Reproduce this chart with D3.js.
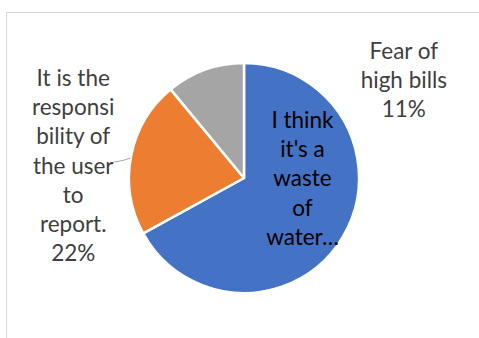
<!DOCTYPE html>
<html>
<head>
<meta charset="utf-8">
<script src="https://cdn.jsdelivr.net/npm/d3@7"></script>
<style>
  html, body { margin: 0; padding: 0; background: #fff; }
  svg { display: block; }
</style>
</head>
<body>
<svg id="chart" width="479" height="338"></svg>
<script>
// Survey answers and their shares (percent)
const categories = [
  "I think it's a waste of water...",
  "It is the responsibility of the user to report.",
  "Fear of high bills"
];
const values = [67, 22, 11];
const colors = ["#4472C4", "#ED7D31", "#A5A5A5"];
// Data-label text, wrapped as drawn
const labelLines = [
  ["I think", "it's a", "waste", "of", "water…"],
  ["It is the", "responsi", "bility of", "the user", "to", "report.", "22%"],
  ["Fear of", "high bills", "11%"]
];

const W = 479, H = 338;
const cx = 244, cy = 178, R = 115;
const fontFamily = "Lato, 'Open Sans', sans-serif";
const fontSize = 22.5;
const lineH = 29.2;

const svg = d3.select("#chart");

// chart area outline (only the top and left edges fall inside the view)
svg.append("rect")
  .attr("x", 6.5).attr("y", 12.5)
  .attr("width", W + 20).attr("height", H + 20)
  .attr("fill", "#fff")
  .attr("stroke", "#d9d9d9").attr("stroke-width", 1);

const data = categories.map((c, i) => ({ name: c, value: values[i], color: colors[i], lines: labelLines[i] }));

const pie = d3.pie().value(d => d.value).sort(null);
const arcs = pie(data);
const arc = d3.arc().innerRadius(0).outerRadius(R);

const g = svg.append("g").attr("transform", `translate(${cx},${cy})`);

g.selectAll("path.slice")
  .data(arcs)
  .enter().append("path")
  .attr("class", "slice")
  .attr("d", arc)
  .attr("fill", d => d.data.color)
  .attr("stroke", "#fff")
  .attr("stroke-width", 2.5)
  .attr("stroke-linejoin", "round");

// label placement: polar offset (fraction of radius) around slice mid-angle, plus nudge
const placement = [
  { rf: 0.52, dx: 7, dy: -30, fill: "#000" },
  { rf: 1.45, dx: -7, dy: 19, fill: "#404040" },
  { rf: 1.0, dx: 0, dy: 0, fill: "#404040" }
];

arcs.forEach((a, i) => {
  const p = placement[i];
  let x, y;
  const mid = (a.startAngle + a.endAngle) / 2;
  if (i === 2) {
    // "Fear of high bills" sits to the upper right, beside the pie
    x = R * 1.39; y = -R * 0.85;
  } else {
    x = Math.sin(mid) * R * p.rf + p.dx;
    y = -Math.cos(mid) * R * p.rf + p.dy;
  }
  const n = a.data.lines.length;
  const t = g.append("text")
    .attr("text-anchor", "middle")
    .attr("font-family", fontFamily)
    .attr("font-size", fontSize)
    .attr("fill", p.fill);
  a.data.lines.forEach((ln, k) => {
    t.append("tspan")
      .attr("x", x)
      .attr("y", y + (k - (n - 1) / 2) * lineH + fontSize * 0.35)
      .text(ln);
  });
});

// leader line for the orange slice label
const orange = arcs[1];
const edgeAng = orange.startAngle + (orange.endAngle - orange.startAngle) * 0.49;
const ex = Math.sin(edgeAng) * R, ey = -Math.cos(edgeAng) * R;
g.append("path")
  .attr("d", d3.line()([[ex, ey], [ex - 8, ey + 2.5], [ex - 17, ey + 4]]))
  .attr("fill", "none")
  .attr("stroke", "#a6a6a6")
  .attr("stroke-width", 1);
</script>
</body>
</html>
